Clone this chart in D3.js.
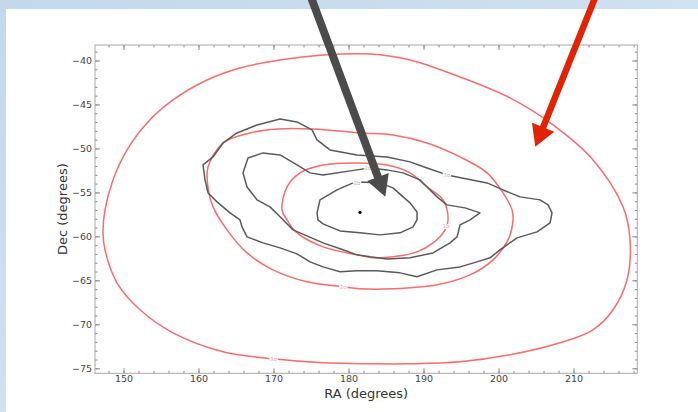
<!DOCTYPE html>
<html>
<head>
<meta charset="utf-8">
<script src="https://cdn.jsdelivr.net/npm/d3@7"></script>
<style>
  body { margin: 0; background: #fff; }
  svg { display: block; font-family: "DejaVu Sans", sans-serif; }
</style>
</head>
<body>
<svg id="chart" width="698" height="412"></svg>
<script>
// axis ticks
const raTicks = [150, 160, 170, 180, 190, 200, 210];
const decTicks = [-40, -45, -50, -55, -60, -65, -70, -75];
const raMinor = d3.range(148, 219, 2);
const decMinor = d3.range(-39, -76, -1);

// red confidence ellipses, [RA, Dec]
const redInner = [[171.13,-56.99],[171.8,-54.38],[173.53,-52.78],[176.6,-51.88],[181.13,-51.65],[185.13,-51.88],
  [188.2,-52.78],[190.47,-54.38],[192.6,-55.85],[193.27,-58.13],[192.87,-59.26],[191.27,-60.74],[189.13,-61.76],
  [185.93,-62.33],[183.27,-62.44],[181.13,-62.1],[176.6,-61.19],[173.13,-59.6],[171.8,-58.13]];
const redMiddle = [[161.27,-52.1],[163.27,-49.38],[166.87,-48.24],[170.47,-47.78],[175.27,-47.78],[181.53,-48.24],
  [185.93,-48.47],[190.47,-49.38],[194.87,-50.97],[198.47,-52.78],[200.6,-55.06],[201.8,-56.99],[201.93,-58.13],
  [201.27,-60.4],[199.27,-62.67],[196.2,-64.38],[191.8,-65.51],[185.93,-65.97],[181.53,-65.97],[179.27,-65.74],
  [174.47,-65.17],[169.93,-63.81],[166.47,-61.88],[163.8,-59.26],[161.93,-56.65],[161.27,-54.49]];
const redOuter = [[182.87,-39.26],[188.2,-39.94],[194.87,-41.88],[201.53,-44.26],[207.27,-47.33],[212.6,-51.31],
  [216.6,-56.65],[217.53,-60.4],[217.13,-64.94],[215.27,-68.35],[212.6,-70.63],[208.2,-72.1],[201.53,-73.47],
  [194.87,-74.26],[188.2,-74.49],[182.87,-74.49],[176.6,-74.38],[169.93,-73.92],[163.27,-73.13],[156.6,-70.97],
  [152.2,-68.35],[149.13,-65.28],[147.53,-61.53],[147.27,-59.6],[147.53,-56.99],[148.6,-53.58],[150.47,-50.17],
  [153.13,-47.1],[156.6,-44.49],[161.13,-42.22],[165.53,-40.85],[170.87,-39.94],[176.6,-39.38]];

// grey density contours, [RA, Dec]
const greyInner = [[175.8,-57.33],[176.2,-55.85],[178.47,-54.72],[180.6,-53.92],[181.53,-53.81],[184.2,-53.92],
  [185.93,-54.49],[187.27,-55.51],[188.2,-56.19],[189.13,-57.22],[189.13,-58.13],[188.6,-58.92],[186.87,-59.6],
  [184.2,-59.83],[181.53,-59.6],[178.87,-59.38],[176.6,-58.58],[175.93,-58.13]];
const greyMiddle = [[165.93,-52.78],[166.6,-51.08],[168.6,-50.51],[170.87,-50.74],[173.13,-51.88],[174.87,-52.78],
  [176.6,-53.01],[181.13,-52.44],[182.87,-52.22],[185.13,-52.44],[187.27,-52.78],[189.53,-53.58],[190.47,-54.38],
  [191.8,-55.51],[193.13,-56.42],[195.53,-56.76],[197.53,-57.33],[196.2,-58.13],[194.87,-58.69],[194.47,-60.06],
  [193.53,-60.74],[191.27,-61.88],[188.2,-62.44],[185.13,-62.56],[182.87,-62.33],[181.13,-62.1],[179.27,-61.53],
  [176.6,-60.74],[172.6,-59.26],[170.87,-57.78],[169.53,-56.65],[167.8,-55.85],[166.47,-54.38]];
const greyOuter = [[160.6,-51.88],[161.93,-50.97],[163.27,-49.38],[165.13,-48.24],[167.8,-47.33],[170.87,-46.65],
  [173.13,-46.99],[175.13,-47.9],[175.8,-49.03],[177.53,-50.17],[181.13,-50.74],[185.13,-50.97],[188.2,-51.53],
  [190.47,-52.22],[193.13,-53.01],[195.8,-53.47],[198.47,-53.92],[200.6,-54.72],[202.87,-55.51],[205.53,-55.85],
  [206.6,-56.42],[207.13,-57.33],[206.87,-58.47],[205.13,-59.49],[202.47,-60.17],[201.13,-60.97],[200.2,-61.53],
  [198.87,-62.44],[197.13,-62.9],[194.87,-63.47],[191.8,-63.81],[189.13,-64.6],[186.87,-64.15],[183.8,-63.92],
  [181.13,-63.92],[178.87,-64.03],[176.6,-63.47],[174.87,-62.9],[173.13,-61.99],[170.87,-61.31],[168.6,-60.74],
  [166.47,-60.06],[165.8,-58.92],[165.53,-58.13],[164.2,-57.33],[162.47,-56.08],[161.27,-55.06],[160.87,-53.58]];

const peak = [181.53, -57.27];

// small contour labels [RA, Dec, text]
const redLabels = [[193.0, -58.8, "1σ"], [179.3, -65.8, "2σ"], [170.0, -73.9, "3σ"]];
const greyLabels = [[181.1, -53.9, "1σ"], [182.6, -52.2, "2σ"], [193.1, -53.0, "3σ"]];

// annotation arrows: start, tip
const greyArrow = [[175.0, -32.8], [184.9, -55.5]];
const redArrow = [[212.9, -32.8], [204.9, -49.8]];

const W = 698, H = 412;
const svg = d3.select("#chart");

// slide background
const defs = svg.append("defs");
const grad = defs.append("linearGradient").attr("id", "bg").attr("x1", 0).attr("y1", 0).attr("x2", 1).attr("y2", 1);
grad.append("stop").attr("offset", "0%").attr("stop-color", "#c3d8eb");
grad.append("stop").attr("offset", "100%").attr("stop-color", "#dce9f5");
svg.append("rect").attr("width", W).attr("height", H).attr("fill", "url(#bg)");
svg.append("rect").attr("x", 6).attr("y", 9).attr("width", W - 6).attr("height", H - 9).attr("fill", "#fff");

const x = d3.scaleLinear().domain([146.2, 218.5]).range([95, 637.3]);
const y = d3.scaleLinear().domain([-38.24, -75.57]).range([45, 373.3]);
const [x0, x1] = x.range(), [y0, y1] = y.range();

function styleAxis(g) {
  g.select(".domain").remove();
  g.selectAll(".tick line").attr("stroke", "#8a8a8a").attr("stroke-width", 1);
  g.selectAll(".tick text").attr("fill", "#444").attr("font-size", 9.5).attr("font-family", "DejaVu Sans, sans-serif");
}

// major + minor ticks on all four sides, pointing inward
svg.append("g").attr("transform", `translate(0,${y1})`)
  .call(d3.axisBottom(x).tickValues(raMinor).tickSize(-2.5).tickFormat("")).call(styleAxis);
svg.append("g").attr("transform", `translate(0,${y1})`)
  .call(d3.axisBottom(x).tickValues(raTicks).tickSize(-5).tickPadding(2)).call(styleAxis);
svg.append("g").attr("transform", `translate(0,${y0})`)
  .call(d3.axisTop(x).tickValues(raMinor).tickSize(-2.5).tickFormat("")).call(styleAxis);
svg.append("g").attr("transform", `translate(0,${y0})`)
  .call(d3.axisTop(x).tickValues(raTicks).tickSize(-5).tickFormat("")).call(styleAxis);
svg.append("g").attr("transform", `translate(${x0},0)`)
  .call(d3.axisLeft(y).tickValues(decMinor).tickSize(-2.5).tickFormat("")).call(styleAxis);
svg.append("g").attr("transform", `translate(${x0},0)`)
  .call(d3.axisLeft(y).tickValues(decTicks).tickSize(-5).tickPadding(3)).call(styleAxis);
svg.append("g").attr("transform", `translate(${x1},0)`)
  .call(d3.axisRight(y).tickValues(decMinor).tickSize(-2.5).tickFormat("")).call(styleAxis);
svg.append("g").attr("transform", `translate(${x1},0)`)
  .call(d3.axisRight(y).tickValues(decTicks).tickSize(-5).tickFormat("")).call(styleAxis);

svg.append("rect")
  .attr("x", x0).attr("y", y0).attr("width", x1 - x0).attr("height", y1 - y0)
  .attr("fill", "none").attr("stroke", "#a8a8a8").attr("stroke-width", 1);

// axis labels
svg.append("text").attr("x", (x0 + x1) / 2).attr("y", 397.5)
  .attr("text-anchor", "middle").attr("font-size", 13).attr("fill", "#333").text("RA (degrees)");
svg.append("text").attr("transform", `translate(67,${(y0 + y1) / 2}) rotate(-90)`)
  .attr("text-anchor", "middle").attr("font-size", 13).attr("fill", "#333").text("Dec (degrees)");

// contours
const smooth = d3.line().x(d => x(d[0])).y(d => y(d[1])).curve(d3.curveCatmullRomClosed);
const jagged = d3.line().x(d => x(d[0])).y(d => y(d[1])).curve(d3.curveLinearClosed);

[redInner, redMiddle, redOuter].forEach(c => {
  svg.append("path").attr("d", smooth(c)).attr("fill", "none")
    .attr("stroke", "#ff6a6a").attr("stroke-width", 1.5);
});
[greyInner, greyMiddle, greyOuter].forEach(c => {
  svg.append("path").attr("d", jagged(c)).attr("fill", "none")
    .attr("stroke", "#595959").attr("stroke-width", 1.5).attr("stroke-linejoin", "round");
});

function drawLabels(labels, color) {
  svg.selectAll(null).data(labels).enter().append("text")
    .attr("x", d => x(d[0])).attr("y", d => y(d[1]))
    .attr("dy", "0.35em").attr("text-anchor", "middle")
    .attr("font-size", 5.5).attr("fill", color)
    .attr("stroke", "#fff").attr("stroke-width", 2).attr("paint-order", "stroke")
    .text(d => d[2]);
}
drawLabels(redLabels, "#f7aaaa");
drawLabels(greyLabels, "#b5b5b5");

svg.append("circle").attr("cx", x(peak[0])).attr("cy", y(peak[1])).attr("r", 1.6).attr("fill", "#000");

// arrows
function drawArrow(pts, color, shaftW, headL, headW) {
  const [sx, sy] = [x(pts[0][0]), y(pts[0][1])];
  const [tx, ty] = [x(pts[1][0]), y(pts[1][1])];
  const len = Math.hypot(tx - sx, ty - sy);
  const ux = (tx - sx) / len, uy = (ty - sy) / len;
  const nx = -uy, ny = ux;
  const bx = tx - ux * headL, by = ty - uy * headL;
  const p = [
    [sx + nx * shaftW / 2, sy + ny * shaftW / 2],
    [bx + nx * shaftW / 2, by + ny * shaftW / 2],
    [bx + nx * headW / 2, by + ny * headW / 2],
    [tx, ty],
    [bx - nx * headW / 2, by - ny * headW / 2],
    [bx - nx * shaftW / 2, by - ny * shaftW / 2],
    [sx - nx * shaftW / 2, sy - ny * shaftW / 2]
  ];
  svg.append("path").attr("d", "M" + p.map(q => q.join(",")).join("L") + "Z").attr("fill", color);
}
drawArrow(greyArrow, "#4b4b4b", 8, 21, 23);
drawArrow(redArrow, "#e22200", 6.5, 21, 24);
</script>
</body>
</html>
